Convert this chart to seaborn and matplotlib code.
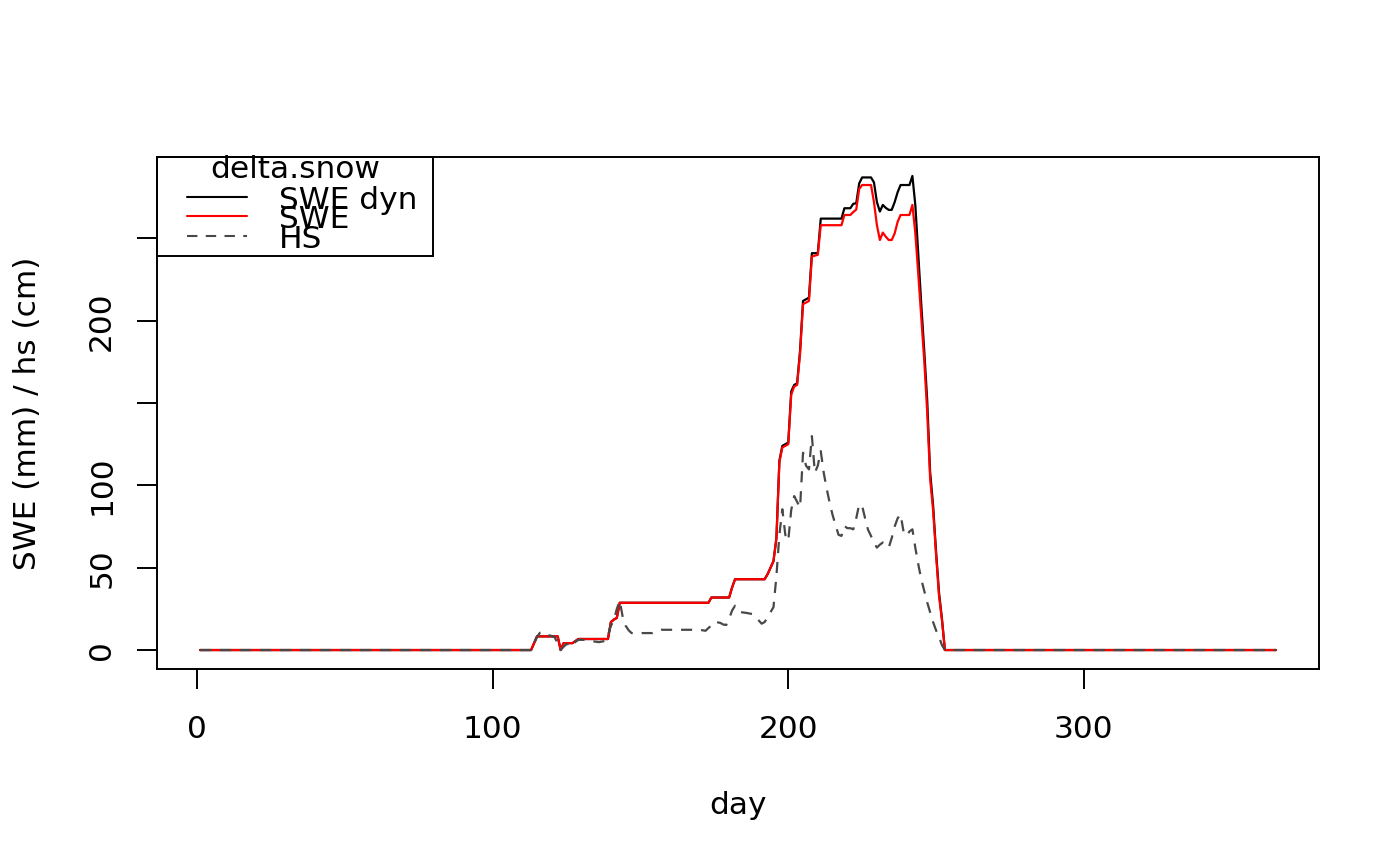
import pandas as pd
import seaborn as sns
import matplotlib.pyplot as plt
from matplotlib.patches import Rectangle
from matplotlib.lines import Line2D

# SWE dyn (black) - vertices of the daily series
dyn_day = [1, 113, 115, 122, 123, 124, 127, 129, 139, 140, 141, 142, 143, 173, 174,
           180, 181, 182, 192, 193, 194, 195, 196, 197, 198, 199, 200, 201, 202, 203,
           204, 205, 206, 207, 208, 210, 211, 218, 219, 221, 222, 223, 224, 225, 228,
           229, 230, 231, 232, 233, 234, 235, 236, 237, 238, 241, 242, 243, 244, 245,
           246, 247, 248, 249, 250, 251, 252, 253, 365]
dyn_val = [0, 0, 8.3, 8.3, 0, 4.2, 4.2, 6.7, 6.7, 17, 18.5, 19.5, 28.7, 28.7, 31.9,
           31.9, 38, 43, 43, 46, 50, 54, 68, 115, 124, 125, 126, 157, 161, 162,
           182, 212, 213, 214, 241, 241, 262, 262, 268.3, 268.3, 271, 271.3, 283.4, 287, 287,
           284, 272, 266.3, 270.3, 268.5, 267.3, 267.3, 272, 278, 282.4, 282.4, 287.9, 270, 240, 210,
           182, 152, 108, 88, 60, 35, 19, 0, 0]

# SWE (red)
swe_day = [1, 113, 115, 122, 123, 124, 127, 129, 139, 140, 141, 142, 143, 173, 174,
           180, 181, 182, 192, 193, 194, 195, 196, 197, 198, 199, 200, 201, 202, 203,
           204, 205, 206, 207, 208, 210, 211, 218, 219, 221, 222, 223, 224, 225, 228,
           229, 230, 231, 232, 233, 234, 235, 236, 237, 238, 241, 242, 243, 244, 245,
           246, 247, 248, 249, 250, 251, 252, 253, 365]
swe_val = [0, 0, 8.3, 8.3, 0, 4.2, 4.2, 6.7, 6.7, 17, 18.5, 19.5, 28.7, 28.7, 31.9,
           31.9, 38, 43, 43, 46, 50, 54, 68, 114, 123, 124, 125, 155, 160, 161,
           180, 210, 211, 212, 239, 240, 258, 258, 264.2, 264.2, 266, 267.5, 280, 282.4, 282.4,
           272, 258, 249, 253.5, 251, 249, 249, 253, 260, 264.2, 264.2, 270.3, 253, 228, 202,
           176, 145, 104, 85, 58, 33, 18, 0, 0]

# HS (dashed)
hs_day = [1, 113, 114, 115, 116, 117, 118, 119, 120, 121, 122, 123, 124, 125, 126,
          127, 128, 129, 131, 133, 136, 138, 139, 140, 141, 142, 143, 144, 145, 146,
          147, 154, 156, 157, 170, 172, 174, 175, 177, 178, 179, 180, 181, 182, 183,
          184, 186, 188, 189, 190, 191, 192, 193, 194, 195, 196, 197, 198, 199, 200,
          201, 202, 203, 204, 205, 206, 207, 208, 209, 210, 211, 212, 213, 214, 215,
          216, 217, 218, 219, 220, 221, 222, 223, 224, 225, 226, 227, 228, 229, 230,
          231, 232, 233, 234, 235, 236, 237, 238, 239, 240, 241, 242, 243, 244, 245,
          246, 247, 248, 249, 250, 251, 252, 253, 365]
hs_val = [0, 0, 4, 8, 10.5, 11, 9.7, 9, 8.5, 7.7, 4, 0, 2, 3.6, 3.6,
          2.2, 5, 6.2, 6.2, 5.5, 4.8, 5.5, 9, 14.7, 18, 25, 29.9, 20, 14.7, 12,
          10.3, 10.3, 11.5, 12.3, 12.3, 11.7, 15, 17.2, 16.5, 15.5, 15.2, 19, 24, 26.9, 24,
          23, 22.5, 21.8, 19.5, 18, 16, 17, 19.8, 23, 26, 45, 70, 85.5, 70, 66.3,
          85, 93.5, 90, 86.5, 119.8, 112, 109.7, 129.9, 107.7, 112, 120.8, 107.7, 98, 89.5, 82,
          76, 70, 69.3, 75.3, 74, 74, 73.3, 80, 88.5, 87.5, 80, 73, 69.3, 65, 62.2,
          64, 65.3, 64, 62.2, 68, 75, 80, 82.4, 72, 69.3, 72, 73.3, 62, 52, 43,
          36, 29, 23, 17, 12, 8, 3, 0, 0]

series_names = ["SWE dyn", "SWE", "HS"]
colors = {"SWE dyn": "black", "SWE": "#FF0000", "HS": "#484848"}
dash_map = {"SWE dyn": "", "SWE": "", "HS": (5, 4)}

df = pd.concat([
    pd.DataFrame({"day": dyn_day, "value": dyn_val, "series": "SWE dyn"}),
    pd.DataFrame({"day": swe_day, "value": swe_val, "series": "SWE"}),
    pd.DataFrame({"day": hs_day, "value": hs_val, "series": "HS"}),
], ignore_index=True)

sns.set_theme(style="white")
plt.rcParams["font.family"] = ["DejaVu Sans"]

fig = plt.figure(figsize=(14, 8.66), dpi=100)
ax = fig.add_axes([157 / 1400, 1 - 669 / 866, 1162 / 1400, 512 / 866])

sns.lineplot(data=df, x="day", y="value", hue="series", style="series",
             hue_order=series_names, style_order=series_names,
             palette=colors, dashes=dash_map, estimator=None, sort=False,
             linewidth=1.6, legend=False, ax=ax)

ax.margins(x=0.04, y=0.04)

ax.set_xticks([0, 100, 200, 300])
ax.set_xticklabels(["0", "100", "200", "300"])
ax.set_yticks([0, 50, 100, 150, 200, 250])
ax.set_yticklabels(["0", "50", "100", "", "200", ""])

ax.tick_params(axis="both", direction="out", length=14.4, width=1.4,
               color="black", labelsize=22.5, labelcolor="black")
ax.tick_params(axis="x", pad=19)
ax.tick_params(axis="y", pad=15)
ax.xaxis.set_ticks_position("bottom")
ax.yaxis.set_ticks_position("left")
for lab in ax.get_yticklabels():
    lab.set_rotation(90)
    lab.set_va("center")

for s in ax.spines.values():
    s.set_visible(True)
    s.set_color("black")
    s.set_linewidth(1.4)

ax.set_xlabel("day", fontsize=22.5, color="black")
ax.set_ylabel("SWE (mm) / hs (cm)", fontsize=22.5, color="black")
ax.xaxis.set_label_coords(0.5, (669 - 805) / 512)
ax.xaxis.label.set_va("center")
ax.yaxis.set_label_coords((27 - 157) / 1162, 0.5)
ax.yaxis.label.set_va("center")
ax.yaxis.label.set_ha("center")

# legend box in the R style
ax.add_patch(Rectangle((0, 0.8066), 0.2375, 1 - 0.8066, transform=ax.transAxes,
                       fill=False, edgecolor="black", linewidth=1.4, clip_on=False))
ax.text(0.1188, 0.976, "delta.snow", transform=ax.transAxes, ha="center", va="center",
        fontsize=22.5, color="black")
for name, yy in zip(series_names, [0.921, 0.884, 0.845]):
    ax.add_line(Line2D([0.0258, 0.0775], [yy, yy], transform=ax.transAxes,
                       color=colors[name], linewidth=1.5,
                       linestyle=(0, dash_map[name]) if dash_map[name] else "-"))
for name, yy in zip(series_names, [0.915, 0.878, 0.839]):
    ax.text(0.105, yy, name, transform=ax.transAxes, ha="left", va="center",
            fontsize=22.5, color="black")

plt.savefig("out.png", dpi=100)
